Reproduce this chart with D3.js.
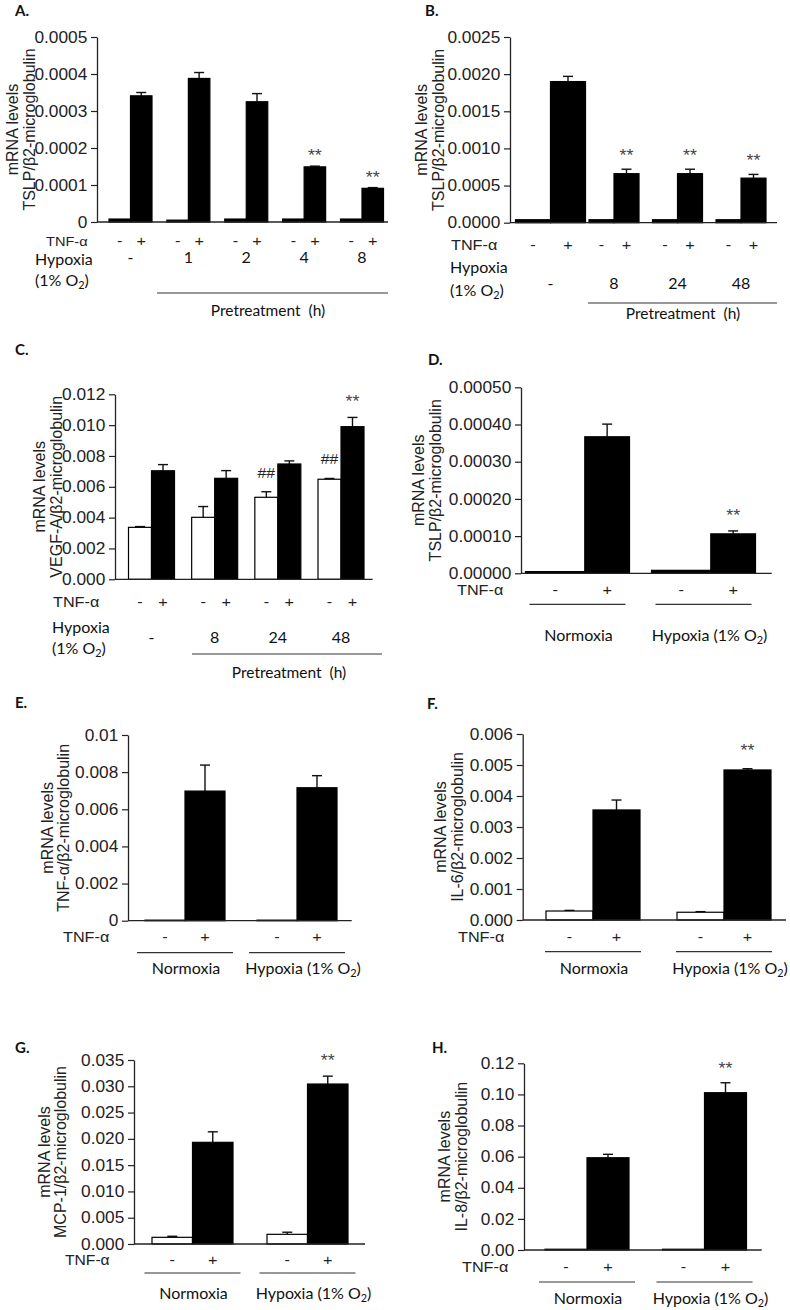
<!DOCTYPE html>
<html><head><meta charset="utf-8">
<script src="https://cdn.jsdelivr.net/npm/d3@7"></script>
<style>html,body{margin:0;padding:0;background:#fff;} svg{display:block}</style>
</head><body>
<svg id="fig" width="790" height="1310"></svg>
<script>
// ---------------- DATA ----------------
// Panel A: TSLP, hypoxia pretreatment 0/1/2/4/8 h
const A_groups = ["-", "1", "2", "4", "8"];
const A_ctrl = [0.000008, 0.000005, 0.000008, 0.000008, 0.000008];
const A_ctrlErr = [0, 0, 0, 0, 0];
const A_tnf = [0.000341, 0.000388, 0.000325, 0.000149, 0.000091];
const A_tnfErr = [0.000009, 0.000016, 0.000022, 0.000002, 0.000002];
const A_ctrlSig = ["", "", "", "", ""];
const A_tnfSig = ["", "", "", "**", "**"];
const A_ticks = [0, 0.0001, 0.0002, 0.0003, 0.0004, 0.0005];
const A_tickLabels = ["0", "0.0001", "0.0002", "0.0003", "0.0004", "0.0005"];

// Panel B: TSLP, hypoxia pretreatment 0/8/24/48 h
const B_groups = ["-", "8", "24", "48"];
const B_ctrl = [0.00004, 0.00004, 0.00004, 0.00004];
const B_ctrlErr = [0, 0, 0, 0];
const B_tnf = [0.0019, 0.00066, 0.00066, 0.0006];
const B_tnfErr = [0.00007, 0.00006, 0.00006, 0.00005];
const B_ctrlSig = ["", "", "", ""];
const B_tnfSig = ["", "**", "**", "**"];
const B_ticks = [0, 0.0005, 0.001, 0.0015, 0.002, 0.0025];
const B_tickLabels = ["0.0000", "0.0005", "0.0010", "0.0015", "0.0020", "0.0025"];

// Panel C: VEGF-A
const C_groups = ["-", "8", "24", "48"];
const C_ctrl = [0.00337, 0.00402, 0.00532, 0.00649];
const C_ctrlErr = [0.00005, 0.0007, 0.00036, 0.00005];
const C_tnf = [0.00704, 0.00655, 0.00748, 0.0099];
const C_tnfErr = [0.0004, 0.0005, 0.0002, 0.0006];
const C_ctrlSig = ["", "", "##", "##"];
const C_tnfSig = ["", "", "", "**"];
const C_ticks = [0, 0.002, 0.004, 0.006, 0.008, 0.010, 0.012];
const C_tickLabels = ["0.000", "0.002", "0.004", "0.006", "0.008", "0.010", "0.012"];

// Panel D: TSLP, normoxia vs hypoxia
const D_groups = ["Normoxia", "Hypoxia (1% O2)"];
const D_ctrl = [0.0000045, 0.000008];
const D_ctrlErr = [0, 0];
const D_tnf = [0.000367, 0.000106];
const D_tnfErr = [0.000034, 0.000008];
const D_ctrlSig = ["", ""];
const D_tnfSig = ["", "**"];
const D_ticks = [0, 0.0001, 0.0002, 0.0003, 0.0004, 0.0005];
const D_tickLabels = ["0.00000", "0.00010", "0.00020", "0.00030", "0.00040", "0.00050"];

// Panel E: TNF-α
const E_groups = ["Normoxia", "Hypoxia (1% O2)"];
const E_ctrl = [0.00003, 0.00003];
const E_ctrlErr = [0, 0];
const E_tnf = [0.00698, 0.00716];
const E_tnfErr = [0.0014, 0.00065];
const E_ctrlSig = ["", ""];
const E_tnfSig = ["", ""];
const E_ticks = [0, 0.002, 0.004, 0.006, 0.008, 0.01];
const E_tickLabels = ["0", "0.002", "0.004", "0.006", "0.008", "0.01"];

// Panel F: IL-6
const F_groups = ["Normoxia", "Hypoxia (1% O2)"];
const F_ctrl = [0.00029, 0.00025];
const F_ctrlErr = [0.00002, 0.00002];
const F_tnf = [0.00355, 0.00484];
const F_tnfErr = [0.00032, 0.00004];
const F_ctrlSig = ["", ""];
const F_tnfSig = ["", "**"];
const F_ticks = [0, 0.001, 0.002, 0.003, 0.004, 0.005, 0.006];
const F_tickLabels = ["0.000", "0.001", "0.002", "0.003", "0.004", "0.005", "0.006"];

// Panel G: MCP-1
const G_groups = ["Normoxia", "Hypoxia (1% O2)"];
const G_ctrl = [0.00127, 0.00184];
const G_ctrlErr = [0.0002, 0.0004];
const G_tnf = [0.01934, 0.03043];
const G_tnfErr = [0.002, 0.0015];
const G_ctrlSig = ["", ""];
const G_tnfSig = ["", "**"];
const G_ticks = [0, 0.005, 0.01, 0.015, 0.02, 0.025, 0.03, 0.035];
const G_tickLabels = ["0.000", "0.005", "0.010", "0.015", "0.020", "0.025", "0.030", "0.035"];

// Panel H: IL-8
const H_groups = ["Normoxia", "Hypoxia (1% O2)"];
const H_ctrl = [0.0005, 0.0005];
const H_ctrlErr = [0, 0];
const H_tnf = [0.0593, 0.1011];
const H_tnfErr = [0.0022, 0.0064];
const H_ctrlSig = ["", ""];
const H_tnfSig = ["", "**"];
const H_ticks = [0, 0.02, 0.04, 0.06, 0.08, 0.10, 0.12];
const H_tickLabels = ["0.00", "0.02", "0.04", "0.06", "0.08", "0.10", "0.12"];

const TNF_SIGNS = ["-", "+"];

// ---------------- RENDER ----------------
const svg = d3.select("#fig");
const ARIAL = "'Liberation Sans', Arial, Helvetica, sans-serif";
const CAL = "Lato, 'Open Sans', sans-serif";
const SX = 1.08;

function txt(g, x, y, s, o = {}) {
  const size = o.size || 14;
  const t = g.append("text")
    .attr("transform", `translate(${x},${y}) scale(${o.sx || 1},1)`)
    .attr("font-family", o.family || ARIAL)
    .attr("font-size", size)
    .attr("font-weight", o.weight || "normal")
    .attr("text-anchor", o.anchor || "start")
    .attr("fill", o.fill || "#111");
  const m = /^(.*O)2(\).*)$/.exec(s);
  if (m) {
    t.append("tspan").text(m[1]);
    t.append("tspan").attr("font-size", size * 0.68).attr("dy", size * 0.2).text("2");
    t.append("tspan").attr("dy", -size * 0.2).text(m[2]);
  } else t.text(s);
  return t;
}

function drawPanel(p) {
  const g = svg.append("g");
  const n = p.groups.length;
  const step = (p.c1 - p.c0) / (n - 1);
  const x = d3.scaleBand().domain(d3.range(n))
    .range([p.c0 - p.bw / 2, p.c1 + p.bw / 2])
    .paddingInner(1 - p.bw / step).paddingOuter(0);
  const y = d3.scaleLinear().domain([0, p.max]).range([p.y0, p.yTop]);
  const split = p.split || 0.5;
  const gCenter = i => x(i) + x.bandwidth() / 2;
  const inner = i => {
    const w = x.bandwidth() * (p.gScale ? p.gScale[i] : 1);
    return d3.scaleLinear().domain([0, 1]).range([gCenter(i) - w / 2, gCenter(i) + w / 2]);
  };
  const bars = [];
  d3.range(n).forEach(i => {
    const s = inner(i);
    bars.push({ i, k: 0, x0: s(0), x1: s(split), v: p.ctrl[i], e: p.ctrlErr[i], sig: p.ctrlSig[i] });
    bars.push({ i, k: 1, x0: s(split), x1: s(1), v: p.tnf[i], e: p.tnfErr[i], sig: p.tnfSig[i] });
  });

  // error bars (drawn first so bars cover the lower part)
  const eb = bars.filter(b => b.e > 0);
  g.selectAll(".err").data(eb).join("line")
    .attr("x1", b => (b.x0 + b.x1) / 2).attr("x2", b => (b.x0 + b.x1) / 2)
    .attr("y1", b => y(b.v)).attr("y2", b => y(b.v + b.e))
    .attr("stroke", "#111").attr("stroke-width", 1.4);
  g.selectAll(".cap").data(eb).join("line")
    .attr("x1", b => (b.x0 + b.x1) / 2 - 5).attr("x2", b => (b.x0 + b.x1) / 2 + 5)
    .attr("y1", b => y(b.v + b.e)).attr("y2", b => y(b.v + b.e))
    .attr("stroke", "#111").attr("stroke-width", 1.4);

  g.selectAll(".bar").data(bars).join("rect")
    .attr("x", b => b.x0).attr("width", b => b.x1 - b.x0)
    .attr("y", b => y(b.v)).attr("height", b => y(0) - y(b.v))
    .attr("fill", b => b.k === 1 ? "#000" : p.ctrlFill)
    .attr("stroke", "#000").attr("stroke-width", 1.2);

  // significance marks
  bars.filter(b => b.sig).forEach(b => {
    const cy = y(b.v + b.e) - p.sigOff;
    const isStar = b.sig === "**";
    txt(g, (b.x0 + b.x1) / 2, cy + (isStar ? 9 : 5), b.sig,
      { anchor: "middle", size: isStar ? 17 : 15, fill: isStar ? "#444" : "#222", sx: 1.05 });
  });

  // y axis
  const ya = g.append("g").attr("transform", `translate(${p.ax},0)`)
    .call(d3.axisLeft(y).tickValues(p.ticks).tickFormat((d, i) => p.tickLabels[i])
      .tickSize(6).tickSizeOuter(0).tickPadding(3));
  ya.select(".domain").attr("stroke", "#222").attr("stroke-width", 1.3);
  ya.selectAll(".tick line").attr("stroke", "#222").attr("stroke-width", 1.2);
  ya.selectAll(".tick text").attr("font-family", ARIAL).attr("font-size", 16)
    .attr("fill", "#222").attr("transform", `scale(${SX},1)`);

  // x axis baseline
  g.append("line").attr("x1", p.ax).attr("x2", p.axEnd).attr("y1", p.y0).attr("y2", p.y0)
    .attr("stroke", "#222").attr("stroke-width", 1.3);

  // y label (two lines)
  const ym = (p.y0 + p.yTop) / 2;
  [["mRNA levels", p.yl[0]], [p.ylabel, p.yl[1]]].forEach(([s, xx]) => {
    g.append("text").attr("transform", `translate(${xx},${ym}) rotate(-90)`)
      .attr("text-anchor", "middle").attr("dominant-baseline", "central")
      .attr("font-family", ARIAL).attr("font-size", 16).attr("fill", "#222").text(s);
  });

  // panel letter
  txt(g, p.letter[0], p.letter[1], p.id + ".", { family: CAL, weight: "bold", size: 15 });

  // TNF-α row
  txt(g, p.tnfX, p.tnfY, "TNF-α", { size: p.tnfSize || 15, sx: SX, fill: "#222" });
  bars.forEach(b => txt(g, (b.x0 + b.x1) / 2, p.tnfY, TNF_SIGNS[b.k],
    { anchor: "middle", size: 15, sx: SX, fill: "#222" }));

  if (p.type === "time") {
    txt(g, p.hypX, p.hypY, "Hypoxia", { family: CAL, size: p.hypSize || 16 });
    txt(g, p.hypX, p.hypY2, "(1% O2)", { family: CAL, size: p.hypSize || 16 });
    d3.range(n).forEach(i => txt(g, gCenter(i), p.grpY, p.groups[i],
      { family: CAL, size: p.hypSize || 16, anchor: "middle" }));
    g.append("line").attr("x1", p.ul[0]).attr("x2", p.ul[1]).attr("y1", p.ulY).attr("y2", p.ulY)
      .attr("stroke", "#333").attr("stroke-width", 1.2);
    txt(g, p.preX, p.preY, "Pretreatment  (h)", { family: CAL, size: 15.5, anchor: "middle" })
      .style("white-space", "pre");
  } else {
    d3.range(n).forEach(i => {
      g.append("line").attr("x1", gCenter(i) - 48).attr("x2", gCenter(i) + 48)
        .attr("y1", p.ulY).attr("y2", p.ulY).attr("stroke", "#333").attr("stroke-width", 1.2);
      txt(g, gCenter(i) + (i === 1 ? 6 : 1), p.nlY, p.groups[i], { family: CAL, size: 16, anchor: "middle" });
    });
  }
}

const panels = [
  { id: "A", groups: A_groups, ctrl: A_ctrl, ctrlErr: A_ctrlErr, tnf: A_tnf, tnfErr: A_tnfErr,
    ctrlSig: A_ctrlSig, tnfSig: A_tnfSig, ticks: A_ticks, tickLabels: A_tickLabels,
    ylabel: "TSLP/β2-microglobulin", ctrlFill: "#000", type: "time",
    ax: 97, axEnd: 388, y0: 222, yTop: 37, max: 0.0005, c0: 130.5, c1: 362, bw: 43,
    yl: [12, 29], letter: [15, 16], sigOff: 14,
    tnfX: 46, tnfY: 246, tnfSize: 13.5, hypX: 35, hypY: 264.5, hypY2: 285.5, grpY: 263, hypSize: 16,
    ul: [157, 388], ulY: 293, preX: 268, preY: 316 },
  { id: "B", groups: B_groups, ctrl: B_ctrl, ctrlErr: B_ctrlErr, tnf: B_tnf, tnfErr: B_tnfErr,
    ctrlSig: B_ctrlSig, tnfSig: B_tnfSig, ticks: B_ticks, tickLabels: B_tickLabels,
    ylabel: "TSLP/β2-microglobulin", ctrlFill: "#000", type: "time",
    ax: 510, axEnd: 777, y0: 222.7, yTop: 37, max: 0.0025, c0: 550.5, c1: 741, bw: 50, gScale: [1.4, 1, 1, 1],
    yl: [421, 438], letter: [425, 16], sigOff: 17,
    tnfX: 451, tnfY: 250, hypX: 450, hypY: 272.5, hypY2: 295.5, grpY: 288.5,
    ul: [588, 777], ulY: 303, preX: 683, preY: 319 },
  { id: "C", groups: C_groups, ctrl: C_ctrl, ctrlErr: C_ctrlErr, tnf: C_tnf, tnfErr: C_tnfErr,
    ctrlSig: C_ctrlSig, tnfSig: C_tnfSig, ticks: C_ticks, tickLabels: C_tickLabels,
    ylabel: "VEGF-A/β2-microglobulin", ctrlFill: "#fff", type: "time",
    ax: 115, axEnd: 372.7, y0: 579.3, yTop: 394.3, max: 0.012, c0: 151.5, c1: 341, bw: 46,
    yl: [39, 56], letter: [15, 355], sigOff: 19,
    tnfX: 53, tnfY: 607, hypX: 52, hypY: 632.5, hypY2: 653.5, grpY: 642.5,
    ul: [192, 382], ulY: 654, preX: 289, preY: 678 },
  { id: "D", groups: D_groups, ctrl: D_ctrl, ctrlErr: D_ctrlErr, tnf: D_tnf, tnfErr: D_tnfErr,
    ctrlSig: D_ctrlSig, tnfSig: D_tnfSig, ticks: D_ticks, tickLabels: D_tickLabels,
    ylabel: "TSLP/β2-microglobulin", ctrlFill: "#000", type: "cond",
    ax: 521, axEnd: 771.7, y0: 573.3, yTop: 387.3, max: 0.0005, c0: 577.5, c1: 703.5, bw: 104, split: 0.57,
    yl: [418, 435], letter: [428, 365], sigOff: 19,
    tnfX: 457, tnfY: 595, ulY: 604.3, nlY: 640.5 },
  { id: "E", groups: E_groups, ctrl: E_ctrl, ctrlErr: E_ctrlErr, tnf: E_tnf, tnfErr: E_tnfErr,
    ctrlSig: E_ctrlSig, tnfSig: E_tnfSig, ticks: E_ticks, tickLabels: E_tickLabels,
    ylabel: "TNF-α/β2-microglobulin", ctrlFill: "#000", type: "cond",
    ax: 128, axEnd: 351.7, y0: 920.7, yTop: 735, max: 0.01, c0: 185, c1: 297, bw: 80,
    yl: [47, 63], letter: [15, 708], sigOff: 18,
    tnfX: 63, tnfY: 941.7, ulY: 952.7, nlY: 973.5 },
  { id: "F", groups: F_groups, ctrl: F_ctrl, ctrlErr: F_ctrlErr, tnf: F_tnf, tnfErr: F_tnfErr,
    ctrlSig: F_ctrlSig, tnfSig: F_tnfSig, ticks: F_ticks, tickLabels: F_tickLabels,
    ylabel: "IL-6/β2-microglobulin", ctrlFill: "#fff", type: "cond",
    ax: 522.7, axEnd: 786, y0: 920, yTop: 734, max: 0.006, c0: 593, c1: 724, bw: 94,
    yl: [440, 457], letter: [427, 709], sigOff: 22,
    tnfX: 458, tnfY: 942, ulY: 951.7, nlY: 973.5 },
  { id: "G", groups: G_groups, ctrl: G_ctrl, ctrlErr: G_ctrlErr, tnf: G_tnf, tnfErr: G_tnfErr,
    ctrlSig: G_ctrlSig, tnfSig: G_tnfSig, ticks: G_ticks, tickLabels: G_tickLabels,
    ylabel: "MCP-1/β2-microglobulin", ctrlFill: "#fff", type: "cond",
    ax: 134, axEnd: 365, y0: 1244, yTop: 1060, max: 0.035, c0: 192.5, c1: 307.5, bw: 81,
    yl: [44, 60], letter: [15, 1053], sigOff: 19,
    tnfX: 65, tnfY: 1265, tnfSize: 14.5, ulY: 1273, nlY: 1298.5 },
  { id: "H", groups: H_groups, ctrl: H_ctrl, ctrlErr: H_ctrlErr, tnf: H_tnf, tnfErr: H_tnfErr,
    ctrlSig: H_ctrlSig, tnfSig: H_tnfSig, ticks: H_ticks, tickLabels: H_tickLabels,
    ylabel: "IL-8/β2-microglobulin", ctrlFill: "#000", type: "cond",
    ax: 524, axEnd: 761.7, y0: 1250, yTop: 1063.3, max: 0.12, c0: 587, c1: 704.5, bw: 84,
    yl: [444, 461], letter: [432, 1053], sigOff: 18,
    tnfX: 462, tnfY: 1271.7, ulY: 1282, nlY: 1304 }
];

panels.forEach(drawPanel);
</script>
</body></html>
